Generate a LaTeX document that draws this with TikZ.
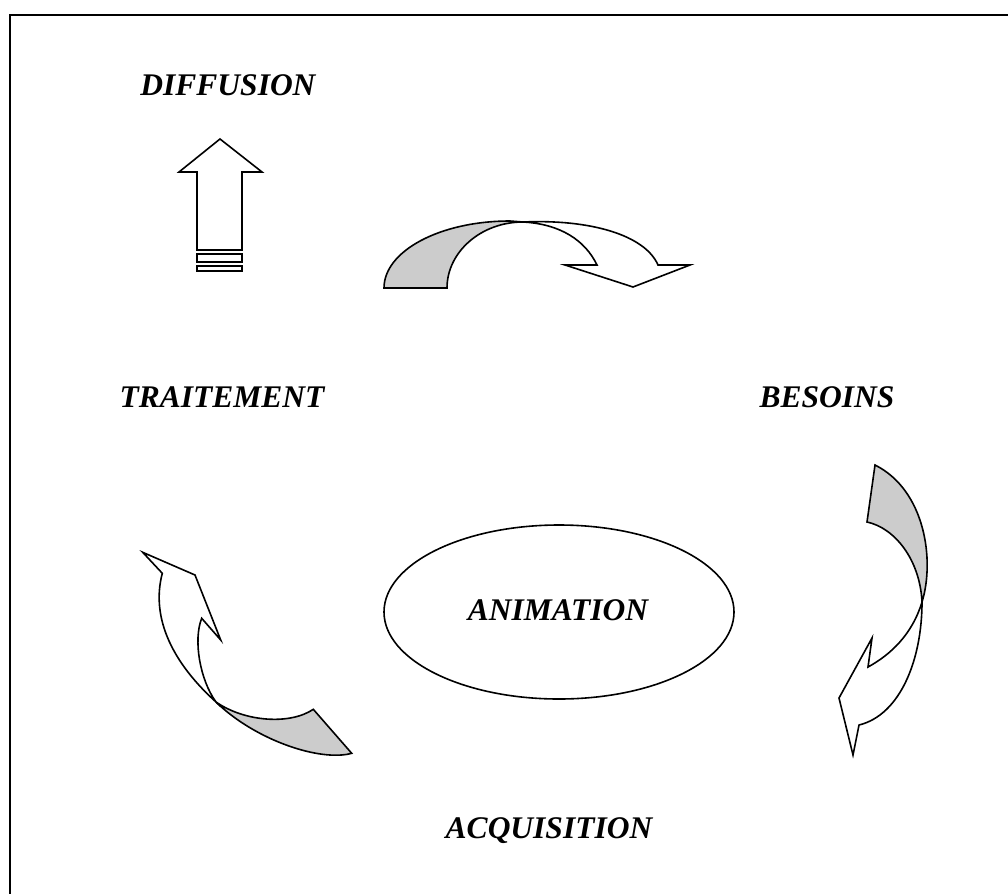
\documentclass[tikz,border=0pt]{standalone}
\usepackage{fontspec}
\setmainfont{Liberation Serif}
\begin{document}
\begin{tikzpicture}[x=1pt,y=-1pt,
  label/.style={font=\fontsize{31.5}{36}\selectfont\bfseries\itshape, inner sep=0pt, anchor=base},
  front/.style={draw=black, fill=white, line width=1.6pt, line join=miter},
  back/.style={draw=black, fill=black!20, line width=1.6pt, line join=miter},
  frameline/.style={line width=2.4pt}]
\useasboundingbox (0,0) rectangle (1008,894);

% page frame (top and left rules)
\draw[frameline] (1008,15) -- (10,15) -- (10,894);

% labels
\node[label] (diff) at (228,95) {DIFFUSION};
\node[label] (trait) at (222,407) {TRAITEMENT};
\node[label] (bes) at (827,407) {BESOINS};
\node[label] (acq) at (549,838) {ACQUISITION};

% central ellipse
\draw[line width=1.6pt] (559,612) ellipse [x radius=175, y radius=87];
\node[label] (anim) at (558,620) {ANIMATION};

% striped up arrow
\draw[front] (220,139) -- (262,172) -- (242,172) -- (242,250) -- (197,250)
  -- (197,172) -- (179,172) -- cycle;
\draw[front] (197,254) rectangle (242,262);
\draw[front] (197,266) rectangle (242,271);

% curved arrow, top
\draw[back] (384,288) -- (447,288) .. controls (447,252) and (481,222) .. (523,222)
  -- (510,221) .. controls (440,221) and (384,251) .. (384,288) -- cycle;
\draw[front] (523,222) .. controls (590,219) and (645,235) .. (658,265)
  -- (690,265) -- (633,287) -- (565,265) -- (597,265)
  .. controls (585,240) and (560,224) .. (523,222) -- cycle;

% curved arrow, right
\draw[back] (875,465) -- (867,522) .. controls (895,528) and (920,560) .. (922,602)
  .. controls (935,560) and (925,490) .. (875,465) -- cycle;
\draw[front] (922,602) .. controls (912,635) and (890,655) .. (868,667)
  -- (872,638) -- (839,698) -- (853,755) -- (859,725)
  .. controls (900,715) and (922,660) .. (922,602) -- cycle;

% curved arrow, left
\draw[back] (216,702) .. controls (245,722) and (290,725) .. (313.3,709.3)
  -- (351.7,753.3) .. controls (320,762) and (255,740) .. (216,702) -- cycle;
\draw[front] (201.7,618.3) -- (220.7,640) -- (195,575) -- (142.7,552.3) -- (162.3,573.3)
  .. controls (150,620) and (175,665) .. (216,702)
  .. controls (200,680) and (193,640) .. (201.7,618.3) -- cycle;
\end{tikzpicture}
\end{document}
